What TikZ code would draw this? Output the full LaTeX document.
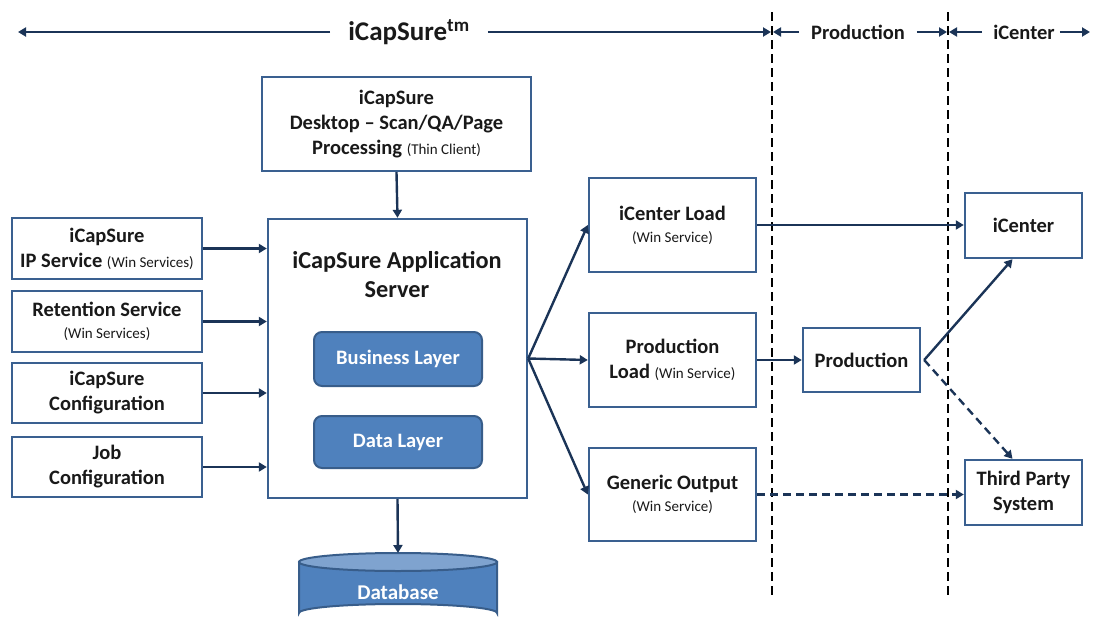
\documentclass[tikz,border=0pt]{standalone}
\usepackage{fontspec}
\setmainfont{Carlito}
\usetikzlibrary{arrows.meta,calc}
\definecolor{bordc}{HTML}{3A6090}
\definecolor{arrc}{HTML}{1B3457}
\definecolor{layfill}{HTML}{4F81BD}
\definecolor{laybord}{HTML}{385D8A}
\definecolor{dbtopc}{HTML}{7FA3CF}
\newcommand\mysm[1]{{\fontsize{15}{17}\selectfont\mdseries #1}}
\begin{document}
\begin{tikzpicture}[x=1pt,y=-1pt,
  box/.style={draw=bordc, line width=2.4pt, fill=white, inner sep=0pt, align=center,
    font=\fontsize{20.5}{25}\selectfont\bfseries, text=black!90},
  boxs/.style={box, font=\fontsize{20.5}{22}\selectfont\bfseries},
  layer/.style={draw=laybord, line width=2pt, fill=layfill, rounded corners=8pt, inner sep=0pt,
    minimum width=168pt, text=white, font=\fontsize{20.5}{24}\selectfont\bfseries},
  arr/.style={draw=arrc, line width=2.4pt, -{Triangle[width=9pt,length=8pt]}},
  darr/.style={arr, dash pattern=on 8pt off 5pt},
  hline/.style={draw=arrc, line width=2.8pt, -{Triangle[width=9pt,length=8pt]}},
  vdash/.style={draw=black, line width=1.8pt, dash pattern=on 9pt off 5pt},
  htext/.style={font=\fontsize{20.5}{24}\selectfont\bfseries, text=black!90, inner sep=0pt}
]
\useasboundingbox (0,0) rectangle (1093,624);

% header
\coordinate (d1t) at (772,12); \coordinate (d1b) at (772,598);
\coordinate (d2t) at (948,12); \coordinate (d2b) at (948,598);
\draw[vdash] (d1t) -- (d1b);
\draw[vdash] (d2t) -- (d2b);

\node[htext, font=\fontsize{27}{30}\selectfont\bfseries] (hcap) at (409,32) {iCapSure\textsuperscript{tm}};
\coordinate (hl) at (18,32);
\coordinate (hr1) at (771,32);
\draw[hline] ([xshift=-18pt]hcap.west |- hl) -- (hl);
\draw[hline] ([xshift=18pt]hcap.east |- hl) -- (hr1);
\node[htext] (hprod) at (858,32) {Production};
\coordinate (hr1b) at (773,32);
\coordinate (hr2a) at (947,32);
\coordinate (hr2b) at (949,32);
\coordinate (hend) at (1090,32);
\draw[hline] ([xshift=-12pt]hprod.west) -- (hr1b);
\draw[hline] ([xshift=12pt]hprod.east) -- (hr2a);
\node[htext] (hic) at (1024,32) {iCenter};
\draw[hline] ([xshift=-11pt]hic.west) -- (hr2b);
\draw[hline] ([xshift=5pt]hic.east) -- (hend);

% desktop
\node[box, minimum width=269pt, minimum height=94pt] (desk) at (396.5,124)
  {iCapSure\\Desktop -- Scan/QA/Page\\Processing \mysm{(Thin Client)}};

% app server
\node[box, minimum width=259pt, minimum height=279pt] (app) at (397.5,358.5) {};
\node[inner sep=0pt, align=center, font=\fontsize{24.3}{29}\selectfont\bfseries, text=black!90] (apptitle) at (397,275)
  {iCapSure Application\\Server};
\node[layer, minimum height=54pt] (biz) at (398,359) {Business Layer};
\node[layer, minimum height=52pt] (dat) at (398,442) {Data Layer};

% database
\coordinate (dbtop) at (398,553);
\draw[draw=laybord, line width=2pt, fill=layfill]
  (299,562) -- (299,613) arc[start angle=180, end angle=360, x radius=99pt, y radius=-9pt] -- (497,562) -- cycle;
\draw[draw=laybord, line width=2pt, fill=dbtopc] (398,562) ellipse[x radius=99pt, y radius=9pt];
\node[text=white, font=\fontsize{21}{24}\selectfont\bfseries, inner sep=0pt] (dbl) at (398,592) {Database};

\draw[arr] (desk.south) -- (app.north);
\draw[arr] (app.south) -- (dbtop);

% left boxes
\node[box, minimum width=190pt, minimum height=61pt] (ip) at (107,248.5)
  {iCapSure\\IP Service \mysm{(Win Services)}};
\node[boxs, minimum width=190pt, minimum height=61pt] (ret) at (107,321.5)
  {Retention Service\\\mysm{(Win Services)}};
\node[box, minimum width=190pt, minimum height=60pt] (conf) at (107,393)
  {iCapSure\\Configuration};
\node[box, minimum width=190pt, minimum height=60pt] (job) at (107,467)
  {Job\\Configuration};
\foreach \n in {ip,ret,conf,job} \draw[arr] (\n.east) -- (\n.east -| app.west);

% right column
\node[boxs, minimum width=167pt, minimum height=94pt] (icl) at (672.5,225)
  {iCenter Load\\\mysm{(Win Service)}};
\node[box, minimum width=167pt, minimum height=94pt] (pl) at (672.5,360)
  {Production\\Load \mysm{(Win Service)}};
\node[boxs, minimum width=167pt, minimum height=93pt] (go) at (672.5,494.5)
  {Generic Output\\\mysm{(Win Service)}};
\node[box, minimum width=117pt, minimum height=64pt] (prod) at (861.5,360) {Production};
\node[box, minimum width=117pt, minimum height=65pt] (ic) at (1023.5,225.5) {iCenter};
\node[box, minimum width=117pt, minimum height=65pt] (tp) at (1023.5,492.5) {Third Party\\System};

\draw[arr] (app.east) -- (icl.west);
\draw[arr] (app.east) -- (pl.west);
\draw[arr] (app.east) -- (go.west);
\draw[arr] (icl.east) -- (icl.east -| ic.west);
\draw[arr] (pl.east) -- (prod.west);
\draw[darr] (go.east) -- (go.east -| tp.west);
\draw[arr] ([xshift=3pt]prod.east) -- ([xshift=-11pt]ic.south);
\draw[darr] ([xshift=3pt]prod.east) -- ([xshift=-11pt]tp.north);
\end{tikzpicture}
\end{document}
